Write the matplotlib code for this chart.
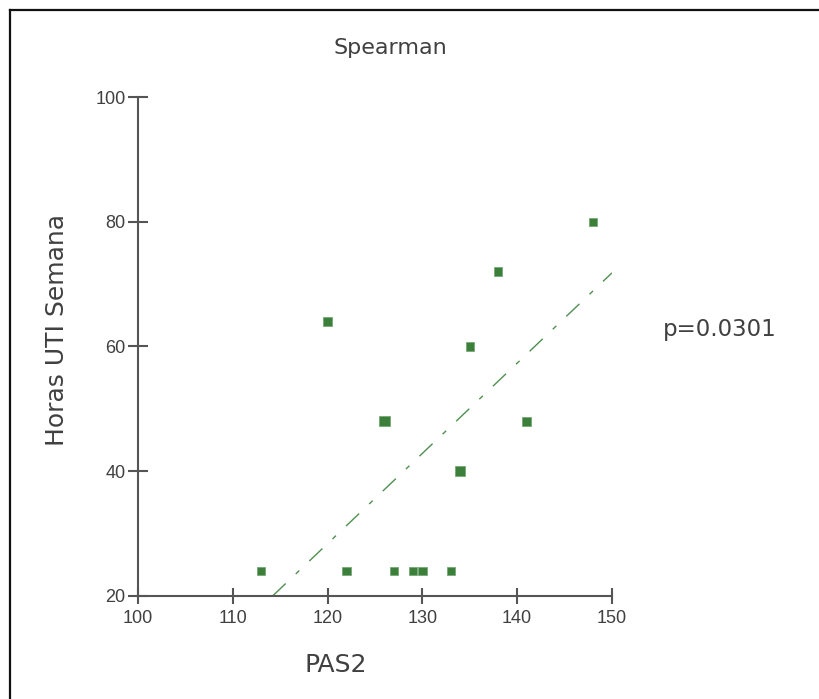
import numpy as np
import matplotlib
matplotlib.use('Agg')
import matplotlib.pyplot as plt
from matplotlib.lines import Line2D

# datos
pas2 = [113, 120, 122, 126, 126, 127, 129, 130, 133, 134, 134, 135, 138, 141, 148]
horas = [24, 64, 24, 48, 48, 24, 24, 24, 24, 40, 40, 60, 72, 48, 80]

# recta de tendencia (extremos leidos)
fit_x = [114.2, 150]
fit_y = [20, 71.8]

x_ticks = [100, 110, 120, 130, 140, 150]
y_ticks = [20, 40, 60, 80, 100]
p_text = 'p=0.0301'

txt = '#404040'
green = '#3b7f3b'

fig = plt.figure(figsize=(8.2, 6.99), dpi=100)
ax = fig.add_axes([0.1683, 0.1474, 0.578, 0.7138])

# puntos repetidos se dibujan mas grandes
pts = np.array(list(zip(pas2, horas)))
uniq, counts = np.unique(pts, axis=0, return_counts=True)
sizes = np.where(counts > 1, 55, 36)
ax.scatter(uniq[:, 0], uniq[:, 1], marker='s', s=sizes, color=green,
           edgecolors='#6fa36f', linewidths=0.5, zorder=3)

ax.plot(fit_x, fit_y, color='#4f8f4f', lw=1.0,
        linestyle=(0, (13, 10, 3.5, 10)), zorder=2)

ax.set_xlim(100, 150)
ax.set_ylim(20, 100)
ax.set_xticks(x_ticks)
ax.set_yticks(y_ticks)
for s in ['top', 'right']:
    ax.spines[s].set_visible(False)
for s in ['left', 'bottom']:
    ax.spines[s].set_color('#555555')
    ax.spines[s].set_linewidth(1.5)
ax.tick_params(axis='x', direction='inout', length=12, width=1.5, color='#555555',
               labelsize=13, labelcolor=txt, pad=4)
ax.tick_params(axis='y', direction='inout', length=14, width=1.5, color='#555555',
               labelsize=13, labelcolor=txt, pad=2)
for lab in ax.get_xticklabels() + ax.get_yticklabels():
    lab.set_family('Liberation Sans')

fig.text(0.4756, 0.931, 'Spearman', ha='center', va='center', fontsize=16, color=txt)
fig.text(0.41, 0.049, 'PAS2', ha='center', va='center', fontsize=18, color=txt)
fig.text(0.0695, 0.528, 'Horas UTI Semana', ha='center', va='center', rotation=90,
         fontsize=18, color=txt)
fig.text(0.878, 0.528, p_text, ha='center', va='center', fontsize=16.5, color=txt)

# marco exterior
fig.add_artist(Line2D([0.0116, 1.0], [0.9857, 0.9857], transform=fig.transFigure,
                      color='#111111', lw=1.6))
fig.add_artist(Line2D([0.0116, 0.0116], [0.0, 0.9857], transform=fig.transFigure,
                      color='#111111', lw=1.6))

fig.savefig('out.png', dpi=100)
